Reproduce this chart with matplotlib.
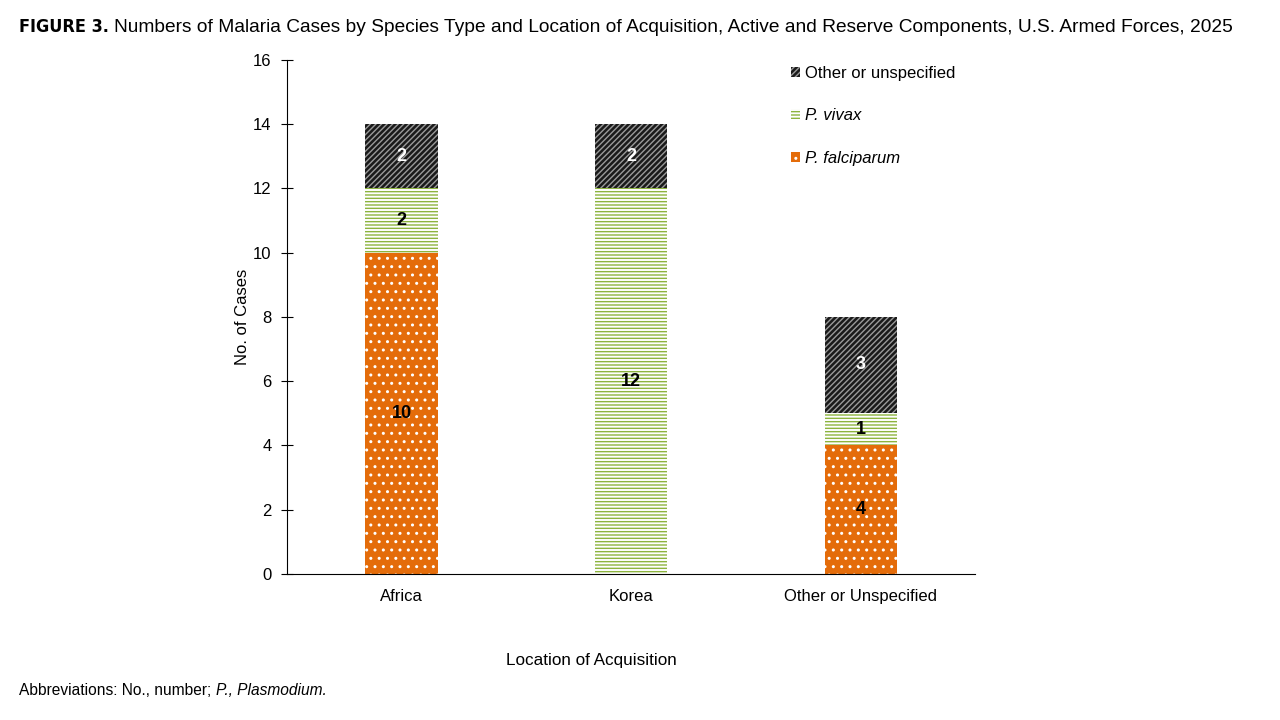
import matplotlib.pyplot as plt
import numpy as np

plt.rcParams['font.family'] = ['Liberation Sans', 'DejaVu Sans']
plt.rcParams['hatch.linewidth'] = 1.0

locations = ["Africa", "Korea", "Other or Unspecified"]
falciparum = [10, 0, 4]
vivax = [2, 12, 1]
other = [2, 2, 3]

fig = plt.figure(figsize=(12.8, 7.2), dpi=100)
ax = fig.add_axes([0.224, 0.203, 0.538, 0.714])

x = np.arange(len(locations))
w = 0.314
fal = np.array(falciparum)
viv = np.array(vivax)
oth = np.array(other)

b1 = ax.bar(x, fal, w, color='#E46C0A', edgecolor='white', hatch='..', linewidth=0,
            label='P. falciparum')
b2 = ax.bar(x, viv, w, bottom=fal, color='white', edgecolor='#8DB43E', hatch='-----',
            linewidth=0, label='P. vivax')
b3 = ax.bar(x, oth, w, bottom=fal + viv, color='#1a1a1a', edgecolor='#9a9a9a',
            hatch='//////', linewidth=0, label='Other or unspecified')

for i in range(len(x)):
    if fal[i] > 0:
        ax.text(x[i], fal[i] / 2, str(fal[i]), ha='center', va='center',
                fontsize=13, fontweight='bold', color='black')
    if viv[i] > 0:
        ax.text(x[i], fal[i] + viv[i] / 2, str(viv[i]), ha='center', va='center',
                fontsize=13, fontweight='bold', color='black')
    if oth[i] > 0:
        ax.text(x[i], fal[i] + viv[i] + oth[i] / 2, str(oth[i]), ha='center',
                va='center', fontsize=13, fontweight='bold', color='white')

ax.set_xlim(-0.5, 2.5)
ax.set_ylim(0, 16)
ax.set_yticks(range(0, 17, 2))
ax.set_xticks(x)
ax.set_xticklabels(locations, fontsize=12)
ax.tick_params(axis='x', length=0, pad=11)
ax.tick_params(axis='y', labelsize=12, length=8, direction='inout', pad=7,
               color='black')
ax.spines['top'].set_visible(False)
ax.spines['right'].set_visible(False)
ax.spines['left'].set_color('black')
ax.spines['bottom'].set_color('black')
ax.set_ylabel('No. of Cases', fontsize=12, labelpad=2)

leg = ax.legend(handles=[b3, b2, b1], loc='upper left', bbox_to_anchor=(0.71, 1.018),
                frameon=False, fontsize=12, handlelength=0.55, handleheight=0.55,
                handletextpad=0.3, labelspacing=1.65)
for t in leg.get_texts()[1:]:
    t.set_fontstyle('italic')

fig.text(0.395, 0.083, 'Location of Acquisition', fontsize=12.3, va='center')

fig.text(0.015, 0.962, 'FIGURE 3.', fontsize=13, fontweight='bold',
         family='DejaVu Sans', stretch='condensed', va='center')
fig.text(0.089, 0.962, 'Numbers of Malaria Cases by Species Type and Location of Acquisition, '
         'Active and Reserve Components, U.S. Armed Forces, 2025', fontsize=13.8, va='center')

t1 = fig.text(0.015, 0.041, 'Abbreviations: No., number; ', fontsize=11.2, va='center')
fig.canvas.draw()
bb = t1.get_window_extent()
fig.text(bb.x1 / 1280, 0.041, 'P., Plasmodium.', fontsize=11.2, va='center',
         fontstyle='italic')

fig.savefig('out.png', dpi=100)
